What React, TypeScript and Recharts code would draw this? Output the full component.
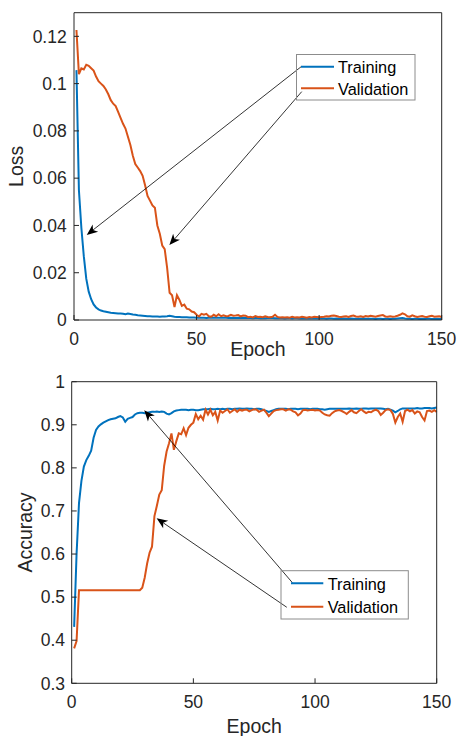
import React from 'react';
import { LineChart, Line, XAxis, YAxis, ReferenceLine } from 'recharts';

const trainLoss = [
  0.1057, 0.055, 0.039, 0.027, 0.0175, 0.012, 0.0088, 0.0066, 0.0053, 0.0045,
  0.004, 0.0037, 0.0035, 0.0033, 0.0031, 0.003, 0.0029, 0.0028, 0.0027, 0.0026,
  0.0024, 0.0027, 0.0025, 0.0023, 0.0022, 0.002, 0.0019, 0.0018, 0.0017, 0.0016,
  0.0016, 0.0015, 0.0015, 0.0015, 0.0014, 0.0015, 0.0015, 0.0016, 0.0018, 0.0016,
  0.0014, 0.0013, 0.0013, 0.0012, 0.0012, 0.0012, 0.0011, 0.0011, 0.0011, 0.001,
  0.001, 0.001, 0.001, 0.0009, 0.001, 0.0009, 0.0009, 0.0009, 0.001, 0.0009,
  0.0009, 0.0009, 0.0008, 0.0009, 0.0008, 0.0008, 0.0009, 0.0008, 0.0008, 0.0008,
  0.0008, 0.0008, 0.0007, 0.0008, 0.0008, 0.0007, 0.0008, 0.0007, 0.0008, 0.0009,
  0.0008, 0.0007, 0.0007, 0.0007, 0.0007, 0.0006, 0.0007, 0.0007, 0.0006, 0.0007,
  0.0007, 0.0006, 0.0007, 0.0006, 0.0006, 0.0007, 0.0006, 0.0006, 0.0006, 0.0006,
  0.0006, 0.0006, 0.0005, 0.0006, 0.0006, 0.0005, 0.0006, 0.0005, 0.0005, 0.0006,
  0.0005, 0.0005, 0.0006, 0.0005, 0.0005, 0.0005, 0.0005, 0.0006, 0.0005, 0.0005,
  0.0005, 0.0005, 0.0004, 0.0005, 0.0005, 0.0004, 0.0005, 0.0005, 0.0004, 0.0005,
  0.0005, 0.0006, 0.0007, 0.0008, 0.0006, 0.0005, 0.0005, 0.0004, 0.0005, 0.0005,
  0.0004, 0.0005, 0.0004, 0.0005, 0.0005, 0.0004, 0.0004, 0.0005, 0.0004, 0.0004,
];

const valLoss = [
  0.1227, 0.104, 0.1065, 0.106, 0.108, 0.1075, 0.1065, 0.1055, 0.103, 0.101,
  0.1, 0.099, 0.0975, 0.0955, 0.093, 0.0915, 0.0905, 0.088, 0.0855, 0.083,
  0.081, 0.0775, 0.074, 0.0695, 0.066, 0.0645, 0.063, 0.061, 0.057, 0.0525,
  0.0505, 0.0485, 0.0475, 0.04, 0.0365, 0.0315, 0.03, 0.022, 0.0115, 0.0105,
  0.0055, 0.0105, 0.0085, 0.006, 0.0065, 0.0048, 0.0045, 0.0036, 0.0033, 0.0022,
  0.0015, 0.0026, 0.0022, 0.0026, 0.0016, 0.0014, 0.0022, 0.0016, 0.0024, 0.0016,
  0.002, 0.0016, 0.0017, 0.0022, 0.0018, 0.0019, 0.0021, 0.0015, 0.0019, 0.0018,
  0.0012, 0.0014, 0.0011, 0.0017, 0.0013, 0.0014, 0.0012, 0.0016, 0.0013, 0.0012,
  0.0014, 0.0022, 0.0013, 0.0011, 0.0012, 0.0011, 0.0012, 0.001, 0.0014, 0.0011,
  0.0012, 0.0011, 0.0014, 0.0012, 0.001, 0.0013, 0.0011, 0.0014, 0.0013, 0.0012,
  0.0013, 0.0014, 0.0016, 0.0015, 0.0018, 0.0019, 0.0017, 0.0014, 0.0013, 0.0015,
  0.0016, 0.0013, 0.0017, 0.0019, 0.0015, 0.0014, 0.0016, 0.0013, 0.0017, 0.0015,
  0.0018, 0.0016, 0.0014, 0.0017, 0.0019, 0.0021, 0.0015, 0.0014, 0.0016, 0.0014,
  0.0015, 0.0018, 0.0022, 0.0028, 0.0024, 0.0016, 0.0014, 0.002, 0.0016, 0.0013,
  0.0015, 0.0017, 0.0014, 0.0013, 0.0016, 0.0018, 0.0014, 0.0015, 0.0016, 0.0013,
];

const trainAcc = [
  0.431, 0.6, 0.718, 0.77, 0.803, 0.818, 0.828, 0.84, 0.87, 0.888,
  0.896, 0.901, 0.905, 0.908, 0.911, 0.913, 0.914, 0.915, 0.918, 0.92,
  0.917, 0.907, 0.914, 0.916, 0.918, 0.924, 0.927, 0.928, 0.928, 0.927,
  0.928, 0.929, 0.93, 0.93, 0.931, 0.93, 0.931, 0.93, 0.926, 0.924,
  0.927, 0.931, 0.933, 0.934, 0.935, 0.935, 0.935, 0.934, 0.935, 0.935,
  0.934, 0.934, 0.935, 0.936, 0.936, 0.936, 0.937, 0.936, 0.936, 0.937,
  0.936, 0.937, 0.936, 0.937, 0.937, 0.936, 0.937, 0.937, 0.938, 0.937,
  0.937, 0.938, 0.937, 0.937, 0.936, 0.937, 0.937, 0.936, 0.934, 0.932,
  0.93, 0.932, 0.934, 0.936, 0.937, 0.937, 0.937, 0.937, 0.936, 0.937,
  0.937, 0.937, 0.936, 0.937, 0.937, 0.937, 0.937, 0.936, 0.937, 0.937,
  0.937, 0.936, 0.936, 0.935, 0.936, 0.937, 0.937, 0.937, 0.937, 0.937,
  0.937, 0.937, 0.937, 0.938, 0.937, 0.937, 0.938, 0.937, 0.937, 0.938,
  0.938, 0.937, 0.938, 0.938, 0.938, 0.938, 0.938, 0.937, 0.936, 0.937,
  0.935, 0.933, 0.929, 0.932, 0.936, 0.938, 0.938, 0.938, 0.938, 0.938,
  0.938, 0.939, 0.938, 0.938, 0.939, 0.939, 0.939, 0.938, 0.939, 0.94,
];

const valAcc = [
  0.381, 0.398, 0.516, 0.516, 0.516, 0.516, 0.516, 0.516, 0.516, 0.516,
  0.516, 0.516, 0.516, 0.516, 0.516, 0.516, 0.516, 0.516, 0.516, 0.516,
  0.516, 0.516, 0.516, 0.516, 0.516, 0.516, 0.516, 0.516, 0.522, 0.545,
  0.578, 0.603, 0.617, 0.688, 0.712, 0.738, 0.748, 0.805, 0.838, 0.857,
  0.88, 0.842, 0.862, 0.88, 0.878, 0.892, 0.876, 0.893, 0.9, 0.905,
  0.925, 0.913, 0.921, 0.912, 0.935, 0.924, 0.935, 0.922, 0.93, 0.91,
  0.933, 0.928, 0.932, 0.936, 0.928, 0.932, 0.936, 0.93, 0.935, 0.933,
  0.935, 0.935, 0.931, 0.934, 0.936, 0.935, 0.93, 0.933, 0.935, 0.928,
  0.92, 0.926, 0.932, 0.934, 0.935, 0.936, 0.936, 0.933, 0.936, 0.935,
  0.931, 0.929, 0.922, 0.926, 0.934, 0.935, 0.933, 0.934, 0.935, 0.933,
  0.934, 0.933, 0.928, 0.924, 0.922, 0.921, 0.927, 0.931, 0.933, 0.934,
  0.932, 0.929, 0.925, 0.93, 0.934, 0.929, 0.927, 0.932, 0.936, 0.931,
  0.927, 0.93, 0.929, 0.933, 0.935, 0.932, 0.923, 0.928, 0.934, 0.936,
  0.934, 0.925, 0.905, 0.918, 0.926, 0.907, 0.932, 0.935, 0.931, 0.934,
  0.926, 0.931, 0.929, 0.918, 0.91, 0.932, 0.933, 0.93, 0.934, 0.93,
];

const xTicks = [0, 50, 100, 150];
const lossTicks = [0, 0.02, 0.04, 0.06, 0.08, 0.1, 0.12];
const accTicks = [0.3, 0.4, 0.5, 0.6, 0.7, 0.8, 0.9, 1];
const seriesNames = ['Training', 'Validation'];

// annotation arrows (data units): [fromEpoch, fromValue, toEpoch, toValue]
const lossArrows = [
  [92.6, 0.1071, 5.2, 0.036],
  [92.9, 0.0966, 38.9, 0.0317],
];
const accArrows = [
  [90.7, 0.5335, 29.8, 0.934],
  [88.4, 0.4764, 34.9, 0.683],
];

const BLUE = '#0072BD';
const ORANGE = '#D95319';
const AX = '#262626';
const FONT = '"Liberation Sans", Arial, Helvetica, sans-serif';

const lossData = trainLoss.map((v, i) => ({ epoch: i + 1, train: v, val: valLoss[i] }));
const accData = trainAcc.map((v, i) => ({ epoch: i + 1, train: v, val: valAcc[i] }));

const Arrow = (props: any) => {
  const { x1, y1, x2, y2 } = props;
  const dx = x2 - x1;
  const dy = y2 - y1;
  const len = Math.hypot(dx, dy) || 1;
  const ux = dx / len;
  const uy = dy / len;
  const px = -uy;
  const py = ux;
  const L = 11;
  const W = 4.5;
  const back = 3;
  const bx = x2 - ux * L;
  const by = y2 - uy * L;
  const nx = x2 - ux * (L - back);
  const ny = y2 - uy * (L - back);
  const d = `M${x2},${y2} L${bx + px * W},${by + py * W} L${nx},${ny} L${bx - px * W},${by - py * W} Z`;
  return (
    <g>
      <line x1={x1} y1={y1} x2={nx} y2={ny} stroke="#000" strokeWidth={0.8} />
      <path d={d} fill="#000" stroke="none" />
    </g>
  );
};

const tickStyle = { fontSize: 17.5, fill: AX, fontFamily: FONT };

const xLabel = (baselineOffset: number) => (props: any) => {
  const vb = props.viewBox || {};
  return (
    <text x={vb.x + vb.width / 2} y={vb.y + baselineOffset} textAnchor="middle" fontSize={19.5} fill={AX} fontFamily={FONT}>
      Epoch
    </text>
  );
};

const yLabel = (text: string, baselineX: number) => (props: any) => {
  const vb = props.viewBox || {};
  const cy = vb.y + vb.height / 2;
  return (
    <text x={baselineX} y={cy} textAnchor="middle" fontSize={19.5} fill={AX} fontFamily={FONT} transform={`rotate(-90 ${baselineX} ${cy})`}>
      {text}
    </text>
  );
};

const fmt = (v: number) => String(v);

function Panel(props: {
  data: any[];
  width: number;
  height: number;
  margin: any;
  yWidth: number;
  xHeight: number;
  yDomain: [number, number];
  yTicks: number[];
  yName: string;
  yLabelX: number;
  xLabelOffset: number;
  xTickMargin: number;
  yTickMargin: number;
  arrows: number[][];
}) {
  const p = props;
  return (
    <LineChart width={p.width} height={p.height} data={p.data} margin={p.margin}>
      <XAxis
        dataKey="epoch"
        type="number"
        domain={[0, 150]}
        ticks={xTicks}
        interval={0}
        height={p.xHeight}
        tickSize={-5}
        tickMargin={p.xTickMargin}
        stroke={AX}
        tick={tickStyle}
        tickFormatter={fmt}
        label={{ content: xLabel(p.xLabelOffset) }}
      />
      <XAxis
        xAxisId="top"
        orientation="top"
        mirror
        dataKey="epoch"
        type="number"
        domain={[0, 150]}
        ticks={xTicks}
        interval={0}
        tickSize={5}
        stroke={AX}
        tick={false}
      />
      <YAxis
        type="number"
        domain={p.yDomain}
        ticks={p.yTicks}
        interval={0}
        width={p.yWidth}
        tickSize={-5}
        tickMargin={p.yTickMargin}
        stroke={AX}
        tick={tickStyle}
        tickFormatter={fmt}
        allowDataOverflow
        label={{ content: yLabel(p.yName, p.yLabelX) }}
      />
      <YAxis
        yAxisId="right"
        orientation="right"
        mirror
        type="number"
        domain={p.yDomain}
        ticks={p.yTicks}
        interval={0}
        tickSize={5}
        stroke={AX}
        tick={false}
        allowDataOverflow
      />
      <Line dataKey="train" name={seriesNames[0]} type="linear" stroke={BLUE} strokeWidth={2} dot={false} isAnimationActive={false} />
      <Line dataKey="val" name={seriesNames[1]} type="linear" stroke={ORANGE} strokeWidth={2} dot={false} isAnimationActive={false} />
      {p.arrows.map((a, i) => (
        <ReferenceLine
          key={i}
          segment={[{ x: a[0], y: a[1] }, { x: a[2], y: a[3] }]}
          ifOverflow="visible"
          shape={Arrow}
        />
      ))}
    </LineChart>
  );
}

function LegendBox(props: { x: number; y: number; w: number; h: number; lineX1: number; lineX2: number; textX: number; rowY: number[] }) {
  const p = props;
  const colors = [BLUE, ORANGE];
  return (
    <g>
      <rect x={p.x} y={p.y} width={p.w} height={p.h} fill="none" stroke="#8c8c8c" strokeWidth={1} />
      {seriesNames.map((n, i) => (
        <g key={n}>
          <line x1={p.lineX1} x2={p.lineX2} y1={p.rowY[i]} y2={p.rowY[i]} stroke={colors[i]} strokeWidth={2} />
          <text x={p.textX} y={p.rowY[i] + 6.4} fontSize={16.3} fill="#000" fontFamily={FONT}>
            {n}
          </text>
        </g>
      ))}
    </g>
  );
}

export default function App() {
  return (
    <div style={{ position: 'absolute', left: 0, top: 0, width: 457, height: 736, background: '#fff', fontFamily: FONT }}>
      <div style={{ position: 'absolute', left: 0, top: 0 }}>
        <Panel
          data={lossData}
          width={457}
          height={360}
          margin={{ top: 12.7, right: 15.3, bottom: 0, left: 0 }}
          yWidth={74}
          xHeight={40}
          yDomain={[0, 0.13]}
          yTicks={lossTicks}
          yName="Loss"
          yLabelX={23.5}
          xLabelOffset={35.7}
          xTickMargin={18}
          yTickMargin={12.3}
          arrows={lossArrows}
        />
      </div>
      <div style={{ position: 'absolute', left: 0, top: 360 }}>
        <Panel
          data={accData}
          width={457}
          height={376}
          margin={{ top: 21.7, right: 20.3, bottom: 0, left: 0 }}
          yWidth={71.7}
          xHeight={52.7}
          yDomain={[0.3, 1]}
          yTicks={accTicks}
          yName="Accuracy"
          yLabelX={32}
          xLabelOffset={49.7}
          xTickMargin={17}
          yTickMargin={11.7}
          arrows={accArrows}
        />
      </div>
      <svg width={457} height={736} style={{ position: 'absolute', left: 0, top: 0, pointerEvents: 'none' }}>
        <LegendBox x={296.5} y={54.5} w={118.5} h={45.5} lineX1={301} lineX2={334} textX={338} rowY={[66.7, 88.3]} />
        <LegendBox x={281} y={570.7} w={127.3} h={48.3} lineX1={291} lineX2={323.3} textX={327.7} rowY={[583.3, 606.7]} />
      </svg>
    </div>
  );
}
